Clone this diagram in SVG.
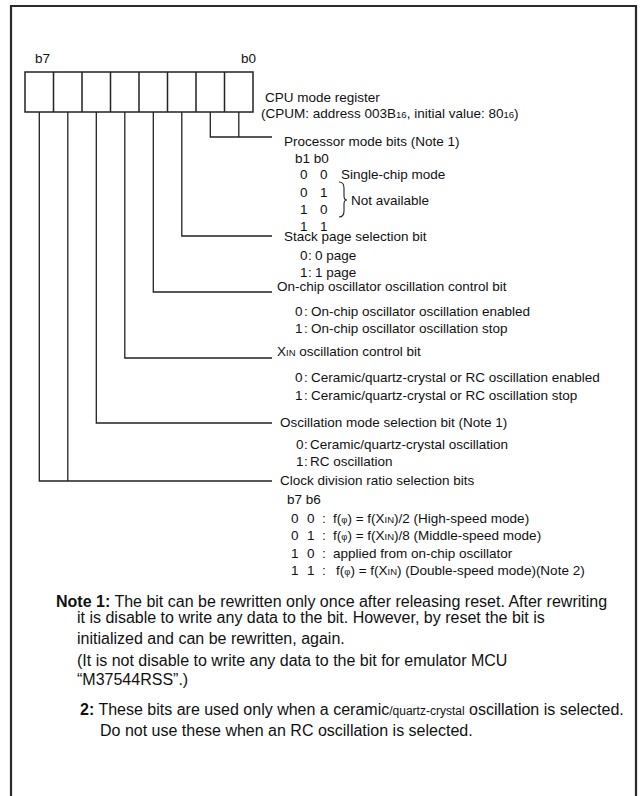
<svg xmlns="http://www.w3.org/2000/svg" width="644" height="796" viewBox="0 0 644 796">
<style>
text{font-family:"Liberation Sans",Arial,sans-serif;font-size:13.5px;fill:#111}
.n{font-size:16px}
.b{font-weight:bold}
.s{font-size:9.5px}
.sm{font-size:12px}
.ln{fill:none;stroke:#222;stroke-width:1.3}
.cell{fill:#fff;stroke:#222;stroke-width:1.5}
.frame{fill:none;stroke:#2a2a2a;stroke-width:2.2}
</style>
<rect width="644" height="796" fill="#fff"/>
<path class="frame" d="M11,796 V6 H636 V796"/>
<g id="register">
<rect class="cell" x="25" y="72" width="228" height="40"/>
<path class="cell" d="M53.5,72V112 M82,72V112 M110.5,72V112 M139,72V112 M167.5,72V112 M196,72V112 M224.5,72V112"/>
<text x="35" y="63">b7</text>
<text x="241" y="63">b0</text>
<text x="265" y="102">CPU mode register</text>
<text x="261" y="118">(CPUM: address 003B<tspan class="s">16</tspan>, initial value: 80<tspan class="s">16</tspan>)</text>
</g>
<g id="connectors">
<path class="ln" d="M238.8,112V137"/>
<path class="ln" d="M210.3,112V137H272"/>
<path class="ln" d="M181.8,112V236H272"/>
<path class="ln" d="M153.3,112V292H272"/>
<path class="ln" d="M124.8,112V358H272"/>
<path class="ln" d="M96.3,112V423H272"/>
<path class="ln" d="M67.8,112V481"/>
<path class="ln" d="M39.3,112V481H272"/>
</g>
<g id="processor-mode">
<text x="284" y="146">Processor mode bits (Note 1)</text>
<text x="295" y="163">b1  b0</text>
<text x="300" y="179">0</text><text x="320" y="179">0</text><text x="341" y="179">Single-chip mode</text>
<text x="300" y="197">0</text><text x="320" y="197">1</text>
<text x="300" y="214">1</text><text x="320" y="214">0</text>
<text x="300" y="231">1</text><text x="320" y="231">1</text>
<path class="ln" style="stroke-width:1.1" d="M339,182 Q344,182 344,188 V196 Q344,200 347,200 Q344,200 344,204 V211 Q344,217 339,217"/>
<text x="351" y="205">Not available</text>
</g>
<g id="stack-page">
<text x="284" y="241">Stack page selection bit</text>
<text x="300" y="260">0</text><text x="308" y="260">:</text><text x="315" y="260">0 page</text>
<text x="300" y="277">1</text><text x="308" y="277">:</text><text x="315" y="277">1 page</text>
</g>
<g id="onchip-osc">
<text x="277" y="291">On-chip oscillator oscillation control bit</text>
<text x="295" y="316">0</text><text x="304" y="316">:</text><text x="311" y="316">On-chip oscillator oscillation enabled</text>
<text x="295" y="333">1</text><text x="304" y="333">:</text><text x="311" y="333">On-chip oscillator oscillation stop</text>
</g>
<g id="xin-osc">
<text x="277" y="356">X<tspan class="s">IN</tspan> oscillation control bit</text>
<text x="295" y="382">0</text><text x="304" y="382">:</text><text x="311" y="382">Ceramic/quartz-crystal or RC oscillation enabled</text>
<text x="295" y="400">1</text><text x="304" y="400">:</text><text x="311" y="400">Ceramic/quartz-crystal or RC oscillation stop</text>
</g>
<g id="osc-mode">
<text x="280" y="427">Oscillation mode selection bit (Note 1)</text>
<text x="296" y="449">0</text><text x="304" y="449">:</text><text x="310" y="449">Ceramic/quartz-crystal oscillation</text>
<text x="296" y="466">1</text><text x="304" y="466">:</text><text x="310" y="466">RC oscillation</text>
</g>
<g id="clock-div">
<text x="280" y="485">Clock division ratio selection bits</text>
<text x="287" y="504">b7  b6</text>
<text x="291" y="523">0</text><text x="307" y="523">0</text><text x="322" y="523">:</text><text x="333" y="523">f(<tspan class="s">φ</tspan>) = f(X<tspan class="s">IN</tspan>)/2 (High-speed mode)</text>
<text x="291" y="540">0</text><text x="307" y="540">1</text><text x="322" y="540">:</text><text x="333" y="540">f(<tspan class="s">φ</tspan>) = f(X<tspan class="s">IN</tspan>)/8 (Middle-speed mode)</text>
<text x="291" y="558">1</text><text x="307" y="558">0</text><text x="322" y="558">:</text><text x="333" y="558">applied from on-chip oscillator</text>
<text x="291" y="575">1</text><text x="307" y="575">1</text><text x="322" y="575">:</text><text x="336" y="575">f(<tspan class="s">φ</tspan>) = f(X<tspan class="s">IN</tspan>) (Double-speed mode)(Note 2)</text>
</g>
<g id="notes">
<text class="n" x="56" y="607"><tspan class="b">Note 1:</tspan> The bit can be rewritten only once after releasing reset. After rewriting</text>
<text class="n" x="77" y="623">it is disable to write any data to the bit. However, by reset the bit is</text>
<text class="n" x="77" y="644">initialized and can be rewritten, again.</text>
<text class="n" x="77" y="666">(It is not disable to write any data to the bit for emulator MCU</text>
<text class="n" x="77" y="685">“M37544RSS”.)</text>
<text class="n" x="80" y="715"><tspan class="b">2:</tspan> These bits are used only when a ceramic<tspan class="sm">/quartz-crystal</tspan> oscillation is selected.</text>
<text class="n" x="100" y="736">Do not use these when an RC oscillation is selected.</text>
</g>
</svg>
